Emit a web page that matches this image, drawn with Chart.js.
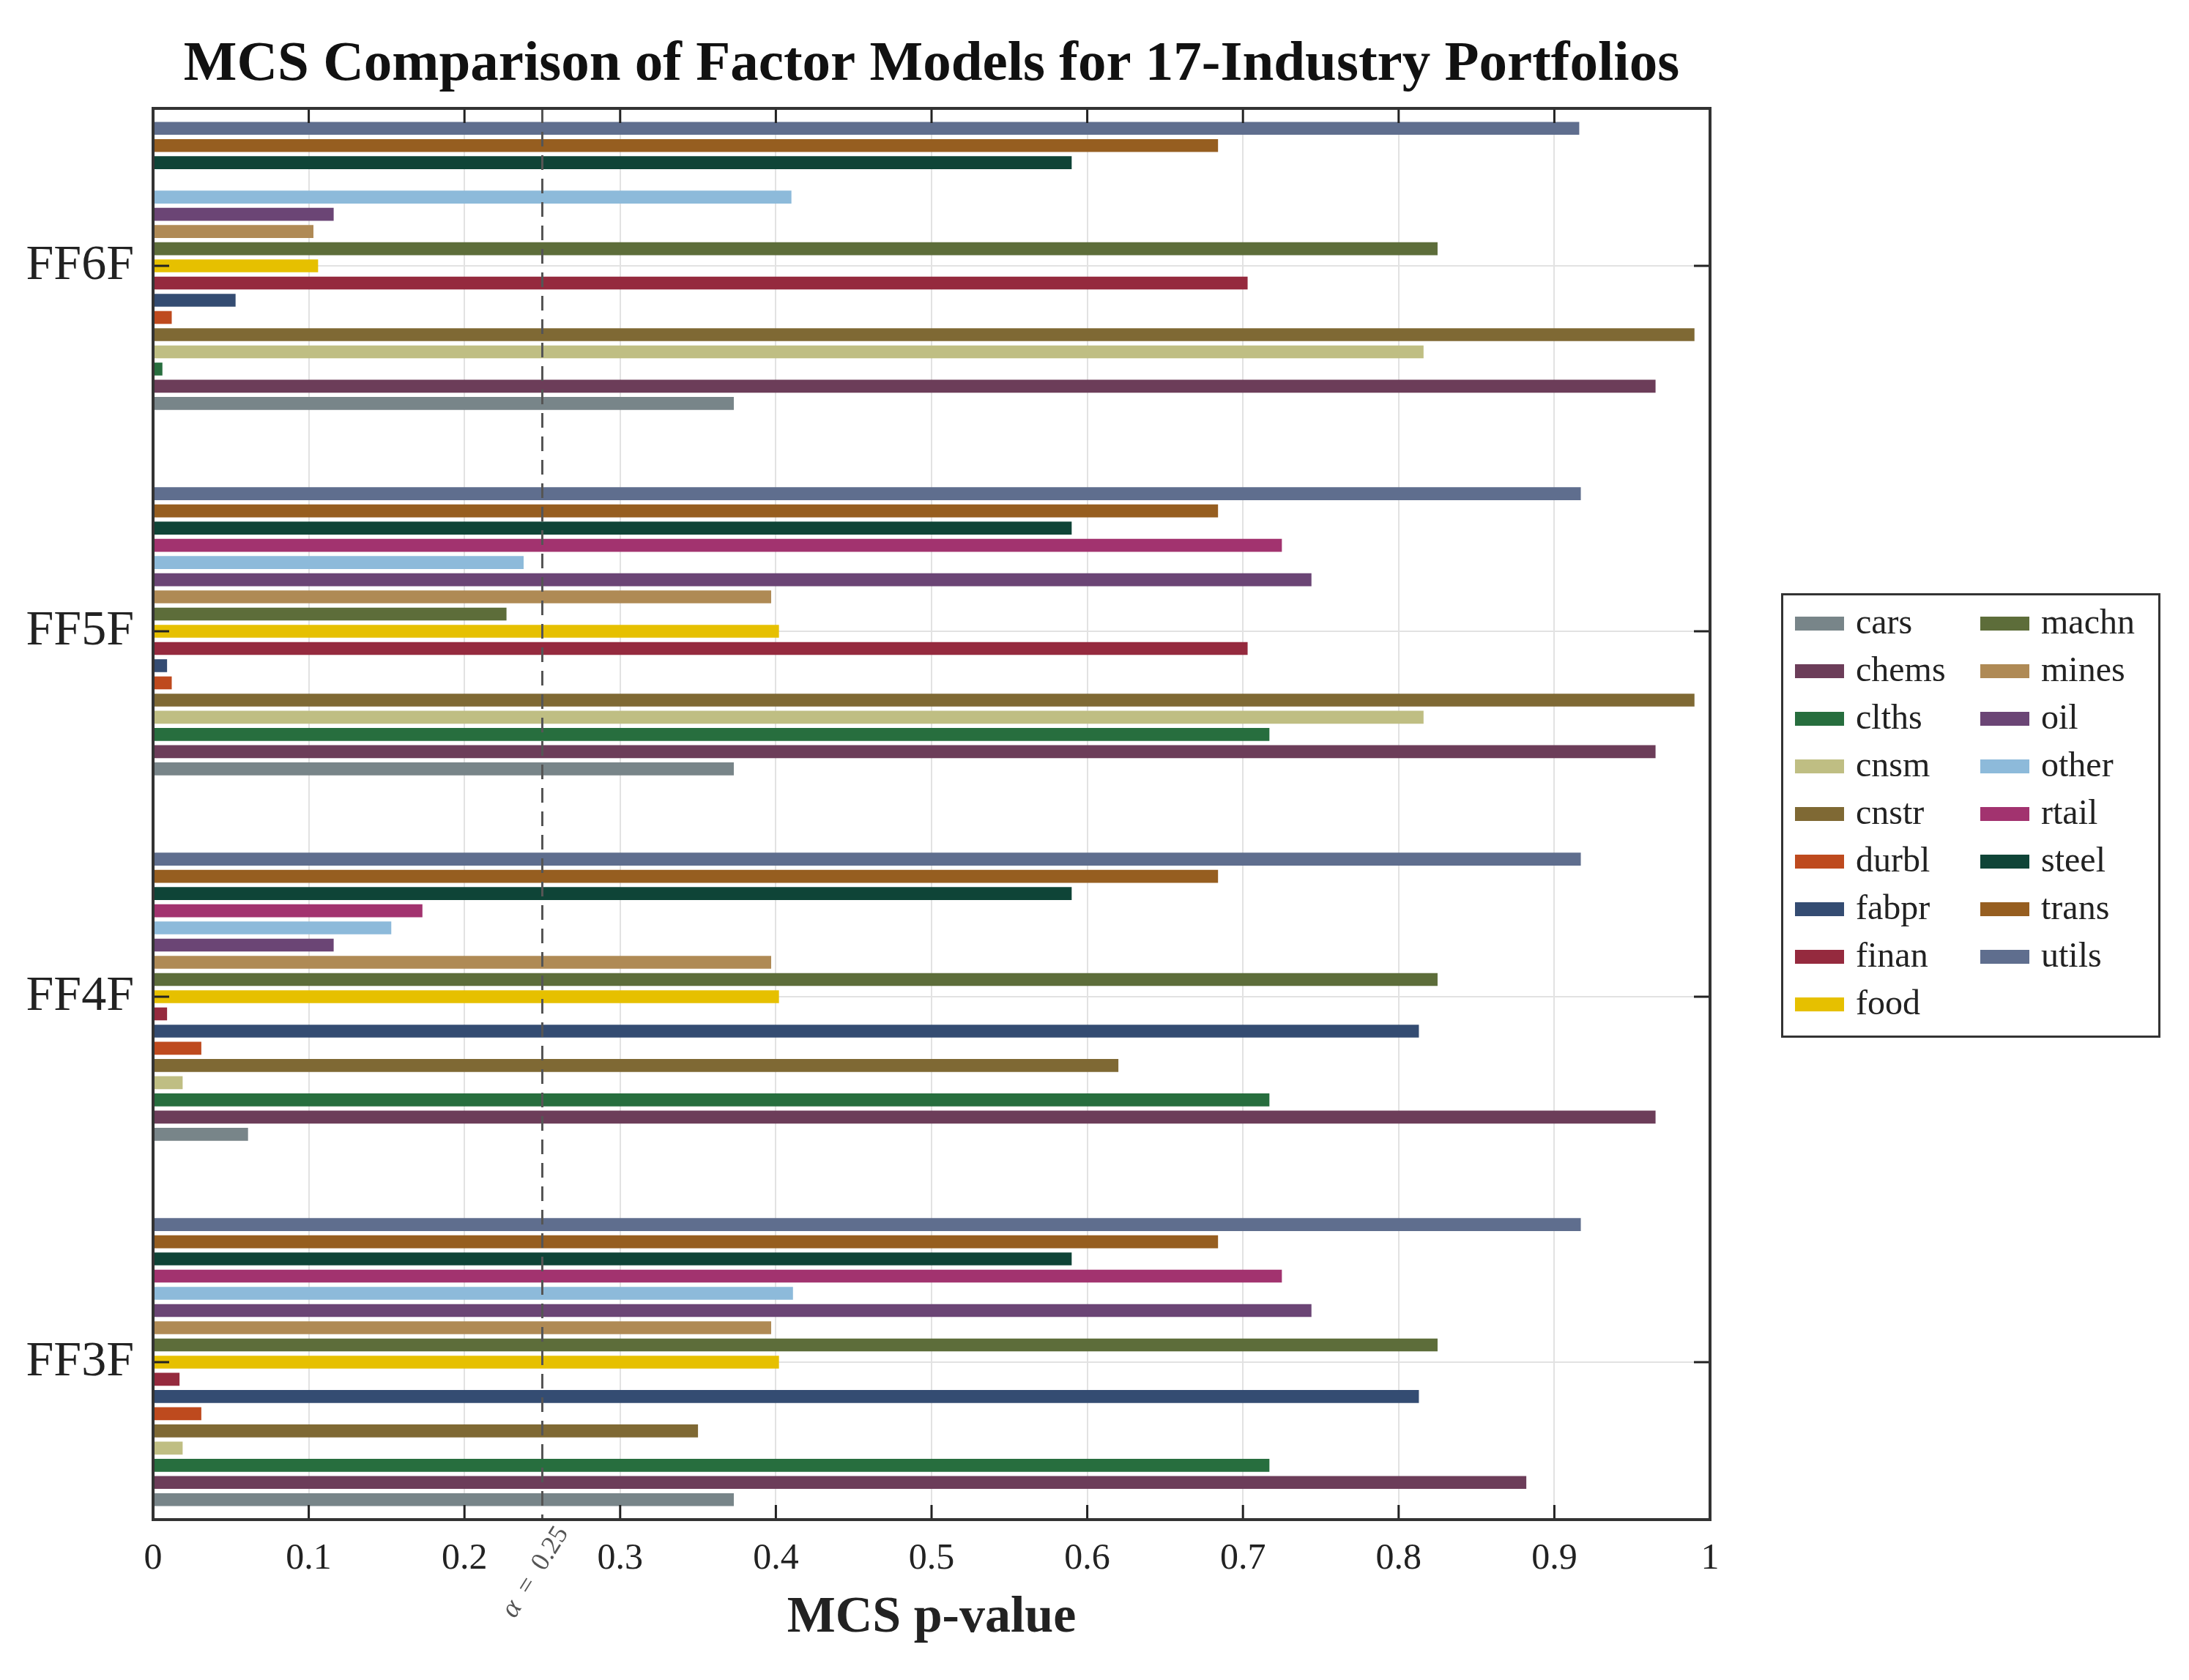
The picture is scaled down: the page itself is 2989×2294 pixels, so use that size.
<!DOCTYPE html>
<html>
<head>
<meta charset="utf-8">
<script src="https://cdn.jsdelivr.net/npm/chart.js@4/dist/chart.umd.min.js"></script>
<style>
  html, body { margin: 0; padding: 0; background: #fff; }
</style>
</head>
<body>
<canvas id="chart" width="2989" height="2294"></canvas>
<script>
// industries in legend order (cars at the bottom of each group)
const industries = ['cars', 'chems', 'clths', 'cnsm', 'cnstr', 'durbl', 'fabpr', 'finan', 'food',
                    'machn', 'mines', 'oil', 'other', 'rtail', 'steel', 'trans', 'utils'];
const colors = ['#788589', '#6C3D59', '#276E3E', '#BFBE83', '#7F6934', '#BE4A1E', '#344C72', '#952A3E', '#E6C000',
                '#5D6D3A', '#AF8A55', '#6B4575', '#8DBADA', '#A2336F', '#0F4437', '#965E20', '#5F6E8E'];

// factor models, bottom to top
const models = ['FF3F', 'FF4F', 'FF5F', 'FF6F'];

// MCS p-values per industry (same order as industries)
const ff3f = [0.373, 0.882, 0.717, 0.019, 0.350, 0.031, 0.813, 0.017, 0.402,
              0.825, 0.397, 0.744, 0.411, 0.725, 0.590, 0.684, 0.917];
const ff4f = [0.061, 0.965, 0.717, 0.019, 0.620, 0.031, 0.813, 0.009, 0.402,
              0.825, 0.397, 0.116, 0.153, 0.173, 0.590, 0.684, 0.917];
const ff5f = [0.373, 0.965, 0.717, 0.816, 0.990, 0.012, 0.009, 0.703, 0.402,
              0.227, 0.397, 0.744, 0.238, 0.725, 0.590, 0.684, 0.917];
const ff6f = [0.373, 0.965, 0.006, 0.816, 0.990, 0.012, 0.053, 0.703, 0.106,
              0.825, 0.103, 0.116, 0.410, null, 0.590, 0.684, 0.916];

const xTicks = [0, 0.1, 0.2, 0.3, 0.4, 0.5, 0.6, 0.7, 0.8, 0.9, 1];
const alpha = 0.25;

const series = [ff3f, ff4f, ff5f, ff6f];
const FONT = '"Liberation Serif"';

// first dataset sits on top of each group, so go from utils down to cars
const datasets = industries.map((name, i) => ({
  label: name,
  data: series.map((vals, m) => ({ x: vals[i], y: m + 1 })),
  backgroundColor: colors[i],
  borderWidth: 0,
  categoryPercentage: 0.8,
  barPercentage: 0.75
})).reverse();

const frame = {
  id: 'frame',
  afterDatasetsDraw(chart) {
    const { ctx, chartArea: a, scales: { x, y } } = chart;
    ctx.save();
    // alpha threshold
    const xa = x.getPixelForValue(alpha);
    ctx.strokeStyle = '#555';
    ctx.lineWidth = 3;
    ctx.setLineDash([20, 12]);
    ctx.beginPath();
    ctx.moveTo(xa, a.top);
    ctx.lineTo(xa, a.bottom);
    ctx.stroke();
    ctx.setLineDash([]);

    // inward ticks on all sides
    ctx.strokeStyle = '#222';
    ctx.lineWidth = 3;
    ctx.beginPath();
    x.ticks.forEach(t => {
      const px = x.getPixelForValue(t.value);
      ctx.moveTo(px, a.top); ctx.lineTo(px, a.top + 20);
      ctx.moveTo(px, a.bottom); ctx.lineTo(px, a.bottom - 20);
    });
    y.ticks.forEach(t => {
      const py = y.getPixelForValue(t.value);
      ctx.moveTo(a.left, py); ctx.lineTo(a.left + 22, py);
      ctx.moveTo(a.right, py); ctx.lineTo(a.right - 22, py);
    });
    ctx.stroke();

    ctx.strokeStyle = '#333';
    ctx.lineWidth = 4;
    ctx.strokeRect(a.left, a.top, a.right - a.left, a.bottom - a.top);

    // alpha label below the axis
    ctx.translate(xa + 36, a.bottom + 18);
    ctx.rotate(-58 * Math.PI / 180);
    ctx.fillStyle = '#555';
    ctx.textAlign = 'right';
    ctx.textBaseline = 'alphabetic';
    ctx.font = '36px ' + FONT;
    const rest = '  =  0.25';
    const w = ctx.measureText(rest).width;
    ctx.fillText(rest, 0, 0);
    ctx.font = 'italic 38px ' + FONT;
    ctx.fillText('α', -w, 0);
    ctx.restore();
  }
};

// boxed two-column legend to the right of the plot, filled column by column
const boxLegend = {
  id: 'boxLegend',
  afterDraw(chart) {
    const { ctx } = chart;
    const left = 2432, top = 810, width = 518, height = 607, rowH = 65, colW = 253;
    ctx.save();
    ctx.strokeStyle = '#333';
    ctx.lineWidth = 3;
    ctx.strokeRect(left + 1.5, top + 1.5, width - 3, height - 3);
    ctx.font = '48px ' + FONT;
    ctx.fillStyle = '#222';
    ctx.textBaseline = 'middle';
    industries.forEach((name, i) => {
      const col = Math.floor(i / 9), row = i % 9;
      const sx = left + 19 + col * colW;
      const cy = top + 42 + row * rowH;
      ctx.fillStyle = colors[i];
      ctx.fillRect(sx, cy - 10, 67, 19);
      ctx.fillStyle = '#222';
      ctx.fillText(name, sx + 83, cy);
    });
    ctx.restore();
  }
};

new Chart(document.getElementById('chart'), {
  type: 'bar',
  data: { datasets },
  plugins: [frame, boxLegend],
  options: {
    indexAxis: 'y',
    responsive: false,
    animation: false,
    devicePixelRatio: 1,
    layout: { padding: { top: 0, right: 654, bottom: 0, left: 0 } },
    plugins: {
      legend: { display: false },
      tooltip: { enabled: false },
      title: {
        display: true,
        fullSize: false,
        text: 'MCS Comparison of Factor Models for 17-Industry Portfolios',
        color: '#111',
        font: { family: FONT, size: 77, weight: 'bold', lineHeight: 1 },
        padding: { top: 51, bottom: 20 }
      }
    },
    scales: {
      x: {
        type: 'linear',
        position: 'bottom',
        min: 0, max: 1,
        afterBuildTicks: s => { s.ticks = xTicks.map(v => ({ value: v })); },
        afterFit: s => { s.height = 219; },
        grid: { color: '#e2e2e2', lineWidth: 2, drawTicks: false },
        border: { display: false },
        ticks: {
          padding: 24,
          color: '#222',
          font: { family: FONT, size: 50 },
          callback: v => String(+v.toFixed(1))
        },
        title: {
          display: true,
          text: 'MCS p-value',
          color: '#222',
          font: { family: FONT, size: 70, weight: 'bold', lineHeight: 1.2 },
          padding: { top: 0, bottom: 42 }
        }
      },
      y: {
        type: 'linear',
        position: 'left',
        min: 0.569, max: 4.431,
        offset: false,
        afterBuildTicks: s => { s.ticks = models.map((m, i) => ({ value: i + 1 })); },
        afterFit: s => { s.width = 209; },
        grid: { color: '#e2e2e2', lineWidth: 2, drawTicks: false, offset: false },
        border: { display: false },
        ticks: {
          padding: 26,
          color: '#222',
          font: { family: FONT, size: 68 },
          callback: v => models[Math.round(v) - 1]
        }
      }
    }
  }
});
</script>
</body>
</html>
